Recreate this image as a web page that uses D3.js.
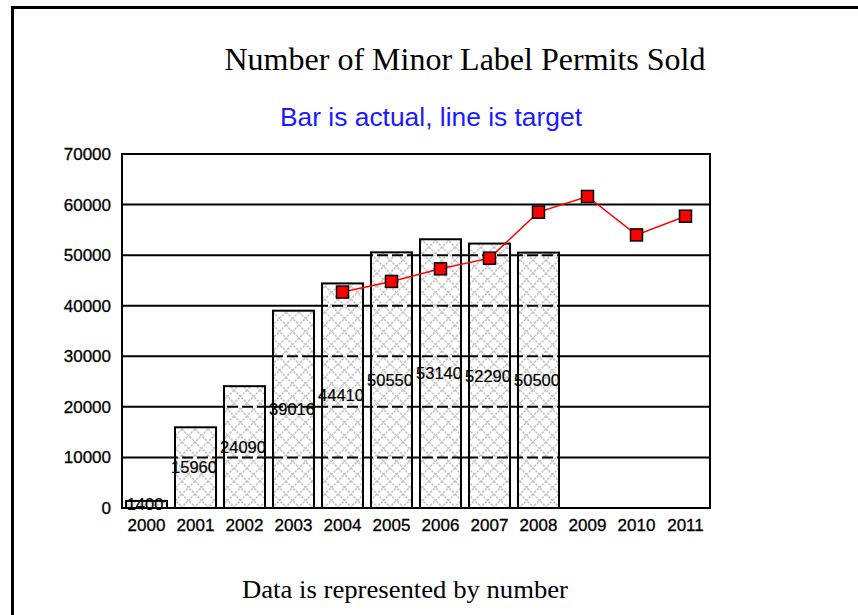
<!DOCTYPE html>
<html>
<head>
<meta charset="utf-8">
<style>
  body { margin: 0; background: #fff; }
  text { font-family: "Liberation Sans", Arial, sans-serif; }
</style>
</head>
<body>
<div id="chart_area"></div>

<!-- Load d3.js -->
<script src="https://d3js.org/d3.v7.min.js"></script>

<script>

// data
var years = ["2000", "2001", "2002", "2003", "2004", "2005", "2006", "2007", "2008", "2009", "2010", "2011"]
var actual = [1400, 15960, 24090, 39016, 44410, 50550, 53140, 52290, 50500, null, null, null]
var target = [null, null, null, null, 42700, 44800, 47300, 49400, 58500, 61600, 54000, 57700]
var yTicks = [0, 10000, 20000, 30000, 40000, 50000, 60000, 70000]

var width = 858, height = 615
var plot = { left: 122, top: 154, right: 710, bottom: 508 }

var svg = d3.select("#chart_area")
  .append("svg")
    .attr("width", width)
    .attr("height", height)

// crosshatch fill for the bars
var defs = svg.append("defs")
var pat = defs.append("pattern")
    .attr("id", "hatch")
    .attr("patternUnits", "userSpaceOnUse")
    .attr("width", 13)
    .attr("height", 13)
pat.append("rect").attr("width", 13).attr("height", 13).attr("fill", "#fff")
pat.append("path")
    .attr("d", "M0,0L13,13M13,0L0,13")
    .attr("stroke", "#c6c6c6")
    .attr("stroke-width", 1.6)
    .attr("stroke-dasharray", "2.5,1")

// outer frame (only top and left edges show)
svg.append("path")
    .attr("d", "M12.5," + height + "V7.5H" + width)
    .attr("fill", "none")
    .attr("stroke", "#000")
    .attr("stroke-width", 3)

// titles
svg.append("text")
    .attr("x", 465)
    .attr("y", 70)
    .attr("text-anchor", "middle")
    .style("font-family", "'Liberation Serif', 'Times New Roman', serif")
    .style("font-size", "32px")
    .attr("textLength", 481)
    .attr("lengthAdjust", "spacingAndGlyphs")
    .text("Number of Minor Label Permits Sold")

svg.append("text")
    .attr("x", 431)
    .attr("y", 126)
    .attr("text-anchor", "middle")
    .attr("fill", "#1a1aff")
    .style("font-size", "25px")
    .attr("textLength", 302)
    .attr("lengthAdjust", "spacingAndGlyphs")
    .text("Bar is actual, line is target")

svg.append("text")
    .attr("x", 405)
    .attr("y", 598)
    .attr("text-anchor", "middle")
    .style("font-family", "'Liberation Serif', 'Times New Roman', serif")
    .style("font-size", "25px")
    .attr("textLength", 326)
    .attr("lengthAdjust", "spacingAndGlyphs")
    .text("Data is represented by number")

// scales
var x = d3.scaleBand()
  .domain(years)
  .range([plot.left, plot.right])
  .paddingInner(0.163)
  .paddingOuter(0.0816)

var y = d3.scaleLinear()
  .domain([0, 70000])
  .range([plot.bottom, plot.top])

// solid gridlines behind bars
svg.append("g")
  .selectAll("line")
  .data(yTicks)
  .enter()
  .append("line")
    .attr("x1", plot.left)
    .attr("x2", plot.right)
    .attr("y1", function (d) { return y(d) })
    .attr("y2", function (d) { return y(d) })
    .attr("stroke", "#000")
    .attr("stroke-width", 2)

// y axis labels
var yAxis = d3.axisLeft(y).tickValues(yTicks).tickFormat(d3.format("d")).tickSize(0).tickPadding(11)
var yg = svg.append("g")
  .attr("transform", "translate(" + plot.left + ",0)")
  .call(yAxis)
yg.select(".domain").remove()
yg.selectAll("text")
  .style("font-size", "17px")
  .style("font-family", "'Liberation Sans', Arial, sans-serif")
  .attr("fill", "#000")
  .attr("stroke", "#000")
  .attr("stroke-width", 0.3)

// x axis labels
var xAxis = d3.axisBottom(x).tickSize(0).tickPadding(11)
var xg = svg.append("g")
  .attr("transform", "translate(0," + plot.bottom + ")")
  .call(xAxis)
xg.select(".domain").remove()
xg.selectAll("text")
  .style("font-size", "17px")
  .style("font-family", "'Liberation Sans', Arial, sans-serif")
  .attr("fill", "#000")
  .attr("stroke", "#000")
  .attr("stroke-width", 0.3)

var barData = years.map(function (d, i) { return { year: d, v: actual[i] } })
  .filter(function (d) { return d.v != null })

// bars
svg.append("g")
  .selectAll("rect")
  .data(barData)
  .enter()
  .append("rect")
    .attr("x", function (d) { return x(d.year) })
    .attr("y", function (d) { return y(d.v) })
    .attr("width", x.bandwidth())
    .attr("height", function (d) { return y(0) - y(d.v) })
    .attr("fill", "url(#hatch)")

// clip to the bars so the gridlines look dashed inside them
var clip = defs.append("clipPath").attr("id", "barclip")
clip.selectAll("rect")
  .data(barData)
  .enter()
  .append("rect")
    .attr("x", function (d) { return x(d.year) })
    .attr("y", function (d) { return y(d.v) })
    .attr("width", x.bandwidth())
    .attr("height", function (d) { return y(0) - y(d.v) })

svg.append("g")
  .attr("clip-path", "url(#barclip)")
  .selectAll("line")
  .data(yTicks.slice(1))
  .enter()
  .append("line")
    .attr("x1", plot.left)
    .attr("x2", plot.right)
    .attr("y1", function (d) { return y(d) })
    .attr("y2", function (d) { return y(d) })
    .attr("stroke", "#000")
    .attr("stroke-width", 2)
    .attr("stroke-dasharray", "11,4")

// bar outlines
svg.append("g")
  .selectAll("rect")
  .data(barData)
  .enter()
  .append("rect")
    .attr("x", function (d) { return x(d.year) })
    .attr("y", function (d) { return y(d.v) })
    .attr("width", x.bandwidth())
    .attr("height", function (d) { return y(0) - y(d.v) })
    .attr("fill", "none")
    .attr("stroke", "#000")
    .attr("stroke-width", 2)

// plot frame
svg.append("rect")
  .attr("x", plot.left)
  .attr("y", plot.top)
  .attr("width", plot.right - plot.left)
  .attr("height", plot.bottom - plot.top)
  .attr("fill", "none")
  .attr("stroke", "#000")
  .attr("stroke-width", 2)

// value labels in the middle of each bar
svg.append("g")
  .selectAll("text")
  .data(barData)
  .enter()
  .append("text")
    .attr("x", function (d) { return x(d.year) + x.bandwidth() / 2 - 1.5 })
    .attr("y", function (d) { return (y(d.v) + y(0)) / 2 })
    .attr("dy", "0.35em")
    .attr("text-anchor", "middle")
    .style("font-size", "16.5px")
    .attr("stroke", "#000")
    .attr("stroke-width", 0.2)
    .text(function (d) { return d.v })

// target line
var lineData = years.map(function (d, i) { return { year: d, v: target[i] } })
  .filter(function (d) { return d.v != null })

var line = d3.line()
  .x(function (d) { return x(d.year) + x.bandwidth() / 2 })
  .y(function (d) { return y(d.v) })

svg.append("path")
  .datum(lineData)
  .attr("d", line)
  .attr("fill", "none")
  .attr("stroke", "#ff0000")
  .attr("stroke-width", 1.5)

svg.append("g")
  .selectAll("rect")
  .data(lineData)
  .enter()
  .append("rect")
    .attr("x", function (d) { return x(d.year) + x.bandwidth() / 2 - 6 })
    .attr("y", function (d) { return y(d.v) - 6 })
    .attr("width", 12)
    .attr("height", 12)
    .attr("fill", "#ff0000")
    .attr("stroke", "#000")
    .attr("stroke-width", 1.5)

</script>
</body>
</html>
